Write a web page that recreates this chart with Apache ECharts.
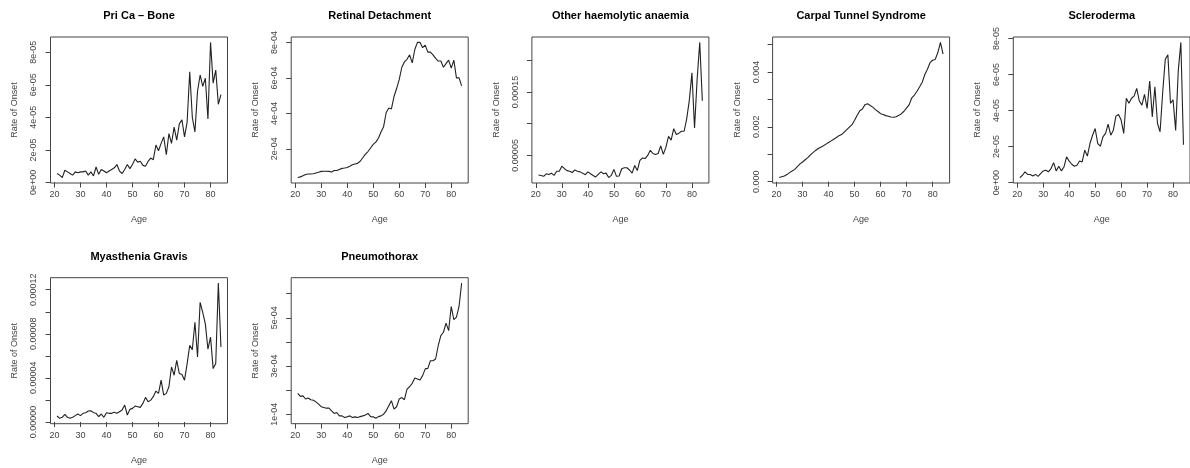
<!DOCTYPE html>
<html><head><meta charset="utf-8">
<script src="https://cdn.jsdelivr.net/npm/echarts@6/dist/echarts.min.js"></script>
<style>html,body{margin:0;padding:0;background:#fff}#c{width:1190px;height:468px}</style>
</head><body><div id="c"></div>
<script>
// ---- data ----
const ages = [21,22,23,24,25,26,27,28,29,30,31,32,33,34,35,36,37,38,39,40,41,42,43,44,45,46,47,48,49,50,51,52,53,54,55,56,57,58,59,60,61,62,63,64,65,66,67,68,69,70,71,72,73,74,75,76,77,78,79,80,81,82,83,84];
const xTicks = [20,30,40,50,60,70,80];
const xTickLabels = ['20','30','40','50','60','70','80'];

// values in units of 1e-5
const priCaBone = [0.55,0.45,0.3,0.75,0.65,0.55,0.45,0.65,0.6,0.65,0.65,0.7,0.45,0.65,0.4,0.95,0.5,0.8,0.7,0.6,0.7,0.8,0.9,1.1,0.7,0.55,0.8,1.1,0.85,1.1,1.45,1.25,1.3,1.05,1.0,1.3,1.5,1.4,2.3,1.95,2.4,2.8,1.7,3.0,2.4,3.4,2.6,3.6,3.85,2.8,3.7,6.8,4.0,3.1,5.6,6.6,5.9,6.4,3.9,8.6,6.1,6.9,4.8,5.4];
// units of 1e-4
const retinalDetachment = [0.38,0.42,0.48,0.55,0.58,0.58,0.6,0.64,0.68,0.73,0.74,0.74,0.73,0.7,0.78,0.78,0.84,0.9,0.92,0.95,1.02,1.1,1.15,1.18,1.3,1.5,1.7,1.85,2.05,2.25,2.38,2.6,2.95,3.25,4.05,4.3,4.25,4.95,5.4,5.9,6.6,6.9,7.05,7.3,6.85,7.6,8.0,8.0,7.7,7.85,7.45,7.45,7.3,7.1,6.95,6.95,6.6,6.8,7.0,6.55,7.0,6.0,6.0,5.55];
// units of 1e-5
const haemolyticAnaemia = [1.9,1.84,1.7,2.1,2.0,2.2,1.84,2.5,2.5,3.3,2.9,2.6,2.5,2.3,2.7,2.5,2.4,2.2,1.95,2.4,2.1,1.84,1.6,2.0,2.4,2.1,2.2,1.5,1.84,2.8,1.7,1.75,2.9,3.05,3.05,2.7,2.2,3.4,2.6,4.2,4.6,4.5,5.0,5.8,5.3,5.15,5.3,6.5,5.15,6.3,8.0,7.4,9.2,8.3,8.5,8.8,8.8,10.8,13.7,18.0,9.3,17.0,22.8,13.6];
// units of 1e-3
const carpalTunnel = [0.15,0.18,0.21,0.26,0.33,0.39,0.45,0.55,0.65,0.72,0.8,0.88,0.98,1.06,1.14,1.21,1.26,1.31,1.37,1.43,1.49,1.55,1.61,1.68,1.72,1.81,1.9,1.99,2.08,2.24,2.42,2.59,2.65,2.81,2.84,2.78,2.72,2.63,2.56,2.48,2.45,2.41,2.39,2.36,2.35,2.37,2.42,2.48,2.57,2.69,2.81,3.06,3.16,3.3,3.46,3.63,3.91,4.1,4.34,4.43,4.46,4.71,5.08,4.65];
// units of 1e-5
const scleroderma = [0.28,0.41,0.6,0.46,0.45,0.37,0.46,0.35,0.5,0.65,0.69,0.6,0.78,1.11,0.65,0.91,0.65,0.87,1.43,1.19,1.02,0.91,0.96,1.2,1.15,1.8,1.47,2.17,2.63,3.0,2.17,2.02,2.54,2.73,3.25,2.63,2.91,3.69,3.78,3.47,2.73,4.68,4.4,4.68,4.8,5.23,4.53,4.3,4.9,4.12,5.64,3.65,5.32,3.28,2.82,5.0,6.85,7.09,4.4,4.6,2.9,6.2,7.78,2.1];
// units of 1e-5
const myastheniaGravis = [0.54,0.33,0.42,0.69,0.42,0.33,0.42,0.57,0.72,0.57,0.78,0.84,0.99,1.02,0.84,0.78,0.48,0.72,0.42,0.84,0.78,0.78,0.87,0.78,0.93,1.08,1.53,0.63,1.14,1.23,1.44,1.38,1.32,1.68,2.23,1.83,1.98,2.29,2.8,2.59,3.79,2.44,2.59,3.19,4.99,4.24,5.59,4.39,4.3,3.79,5.29,6.95,6.56,9.05,5.89,10.86,9.95,8.9,6.6,7.7,4.84,5.3,12.6,6.8];
// units of 1e-4
const pneumothorax = [1.86,1.74,1.76,1.63,1.67,1.6,1.58,1.51,1.42,1.31,1.28,1.25,1.25,1.14,1.03,1.07,0.93,0.93,0.86,0.89,0.93,0.86,0.89,0.86,0.9,0.93,0.97,1.03,0.9,0.89,0.83,0.9,0.93,1.0,1.14,1.35,1.56,1.21,1.31,1.63,1.69,1.6,2.04,2.14,2.28,2.5,2.46,2.42,2.6,2.88,2.9,3.22,3.22,3.29,3.85,4.26,4.4,4.78,4.47,5.47,4.92,5.03,5.47,6.44];

const titles = ['Pri Ca \u2013 Bone','Retinal Detachment','Other haemolytic anaemia','Carpal Tunnel Syndrome','Scleroderma','Myasthenia Gravis','Pneumothorax'];
const units = [1e-5,1e-4,1e-5,1e-3,1e-5,1e-5,1e-4];

const yTicks1 = [0,2e-5,4e-5,6e-5,8e-5];
const yLabelVals1 = [0,2e-5,4e-5,6e-5,8e-5];
const yLabels1 = ['0e+00','2e-05','4e-05','6e-05','8e-05'];
const yTicks2 = [2e-4,4e-4,6e-4,8e-4];
const yLabelVals2 = [2e-4,4e-4,6e-4,8e-4];
const yLabels2 = ['2e-04','4e-04','6e-04','8e-04'];
const yTicks3 = [5e-5,1e-4,1.5e-4,2e-4];
const yLabelVals3 = [5e-5,1.5e-4];
const yLabels3 = ['0.00005','0.00015'];
const yTicks4 = [0,0.001,0.002,0.003,0.004,0.005];
const yLabelVals4 = [0,0.002,0.004];
const yLabels4 = ['0.000','0.002','0.004'];
const yTicks5 = [0,2e-5,4e-5,6e-5,8e-5];
const yLabelVals5 = [0,2e-5,4e-5,6e-5,8e-5];
const yLabels5 = ['0e+00','2e-05','4e-05','6e-05','8e-05'];
const yTicks6 = [0,2e-5,4e-5,6e-5,8e-5,1e-4,1.2e-4];
const yLabelVals6 = [0,4e-5,8e-5,1.2e-4];
const yLabels6 = ['0.00000','0.00004','0.00008','0.00012'];
const yTicks7 = [1e-4,2e-4,3e-4,4e-4,5e-4,6e-4];
const yLabelVals7 = [1e-4,3e-4,5e-4];
const yLabels7 = ['1e-04','3e-04','5e-04'];

const seriesVals = [priCaBone,retinalDetachment,haemolyticAnaemia,carpalTunnel,scleroderma,myastheniaGravis,pneumothorax];
const yTicksAll = [yTicks1,yTicks2,yTicks3,yTicks4,yTicks5,yTicks6,yTicks7];
const yLabelValsAll = [yLabelVals1,yLabelVals2,yLabelVals3,yLabelVals4,yLabelVals5,yLabelVals6,yLabelVals7];
const yLabelsAll = [yLabels1,yLabels2,yLabels3,yLabels4,yLabels5,yLabels6,yLabels7];

// ---- layout ----
const FONT = '"Liberation Sans", Arial, Helvetica, sans-serif';
const colStep = 240.7, rowStep = 240.7;
const boxLeft0 = 50.5, boxTop0 = 37, boxW = 177, boxH = 146;

function rExt(arr){ const lo=Math.min(...arr), hi=Math.max(...arr), d=(hi-lo)*0.04; return [lo-d, hi+d]; }

const grids=[], xAxes=[], yAxes=[], series=[], graphics=[];
seriesVals.forEach((vals,i)=>{
  const r = Math.floor(i/5), c = i%5;
  const left = boxLeft0 + colStep*c, top = boxTop0 + rowStep*r;
  const yv = vals.map(v=>v*units[i]);
  const xr = rExt(ages), yr = rExt(yv);
  grids.push({left:left, top:top, width:boxW, height:boxH, show:true, borderColor:'#444', borderWidth:1, backgroundColor:'transparent'});
  xAxes.push({gridIndex:i, type:'value', min:xr[0], max:xr[1],
    axisLine:{show:false}, splitLine:{show:false},
    axisTick:{show:true, length:5, lineStyle:{color:'#444', width:1}, customValues:xTicks},
    axisLabel:{customValues:xTicks, margin:7, fontSize:9, color:'#444', fontFamily:FONT,
      formatter:(v)=>{const k=xTicks.indexOf(Math.round(v)); return k>=0?xTickLabels[k]:'';}},
    name:'Age', nameLocation:'middle', nameGap:32, nameTextStyle:{fontSize:9, color:'#444', fontFamily:FONT}});
  const lv = yLabelValsAll[i], lt = yLabelsAll[i];
  yAxes.push({gridIndex:i, type:'value', min:yr[0], max:yr[1],
    axisLine:{show:false}, splitLine:{show:false},
    axisTick:{show:true, length:5, lineStyle:{color:'#444', width:1}, customValues:yTicksAll[i]},
    axisLabel:{customValues:lv, rotate:90, margin:12, fontSize:9, color:'#444', fontFamily:FONT, showMinLabel:true, showMaxLabel:true,
      formatter:(v)=>{for(let k=0;k<lv.length;k++){ if(Math.abs(v-lv[k])<=1e-9*Math.max(1e-6,Math.abs(lv[k]))+1e-15) return lt[k]; } return '';}},
    name:'Rate of Onset', nameLocation:'middle', nameGap:31, nameTextStyle:{fontSize:9, color:'#444', fontFamily:FONT}});
  series.push({type:'line', xAxisIndex:i, yAxisIndex:i, showSymbol:false, symbol:'none', silent:true,
    lineStyle:{color:'#222', width:1.1}, data: ages.map((a,k)=>[a, yv[k]])});
  graphics.push({type:'text', x:left+boxW/2, y:15.7 + (rowStep+1)*r, silent:true,
    style:{text:titles[i], font:'bold 11px '+FONT, fill:'#000', align:'center', verticalAlign:'middle'}});
});

const chart = echarts.init(document.getElementById('c'), null, {renderer:'canvas'});
chart.setOption({animation:false, backgroundColor:'#fff', grid:grids, xAxis:xAxes, yAxis:yAxes, series:series, graphic:graphics});
</script>
</body></html>
